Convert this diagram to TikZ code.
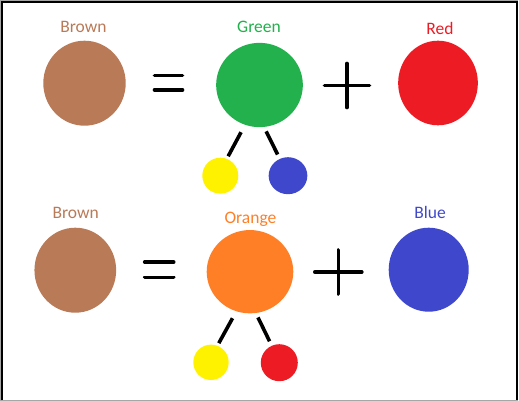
\documentclass[tikz,border=0pt]{standalone}
\usepackage{fontspec}
\setmainfont{Carlito}
\usetikzlibrary{shapes.geometric}
\definecolor{pbrown}{HTML}{B97A57}
\definecolor{pgreen}{HTML}{22B14C}
\definecolor{pred}{HTML}{ED1C24}
\definecolor{pyellow}{HTML}{FFF200}
\definecolor{pblue}{HTML}{3F48CC}
\definecolor{porange}{HTML}{FF7F27}
\tikzset{
  blob/.style={ellipse, inner sep=0pt, outer sep=0pt, draw=none},
  tag/.style={font=\fontsize{17.5}{19}\selectfont, inner sep=0pt},
  sign/.style={line width=3.6pt, line cap=round},
  stem/.style={line width=3.6pt}
}
\begin{document}
\begin{tikzpicture}[x=1pt,y=-1pt]
  \useasboundingbox (0,0) rectangle (519,401);
  \fill[white] (0,0) rectangle (519,401);
  % frame
  \draw[gray!70, line width=1pt] (0,400.5) -- (0,0.5) -- (518,0.5);
  \draw[gray!70, line width=1pt] (0,400.5) -- (518,400.5);
  \draw[black, line width=2pt] (2,400) -- (2,2) -- (516.5,2) -- (516.5,400);

  % ---- top row: brown = green + red
  \node[blob, fill=pbrown, minimum width=82.4pt, minimum height=85pt] (brownA) at (84.5,83.2) {};
  \node[blob, fill=pgreen, minimum width=86.7pt, minimum height=84.3pt] (greenA) at (259.5,85) {};
  \node[blob, fill=pred, minimum width=79.7pt, minimum height=84.6pt] (redA) at (438,83) {};
  \node[blob, fill=pyellow, minimum width=36pt, minimum height=36pt] (yellowA) at (220.3,175.7) {};
  \node[blob, fill=pblue, minimum width=38.7pt, minimum height=37pt] (blueA) at (288,175.7) {};

  \node[tag, text=pbrown] (lbBrownA) at (83.5,27) {Brown};
  \node[tag, text=pgreen] (lbGreenA) at (259,27) {Green};
  \node[tag, text=pred] (lbRedA) at (440,28.5) {Red};

  \coordinate (eqA) at (168.5,82.7);
  \draw[sign] ([shift={(-14,-7.3)}]eqA) -- ([shift={(14,-7.3)}]eqA);
  \draw[sign] ([shift={(-14,7.3)}]eqA) -- ([shift={(14,7.3)}]eqA);
  \coordinate (plA) at (347,85.5);
  \draw[sign] ([shift={(-22.5,0)}]plA) -- ([shift={(22.5,0)}]plA);
  \draw[sign] ([shift={(0,-22)}]plA) -- ([shift={(0,22)}]plA);

  \draw[stem, shorten <=8.5pt, shorten >=3pt] (greenA.-110.6) -- (yellowA.69.4);
  \draw[stem, shorten <=5pt, shorten >=5pt] (greenA.-84) -- (blueA.116);

  % ---- bottom row: brown = orange + blue
  \node[blob, fill=pbrown, minimum width=81.7pt, minimum height=85pt] (brownB) at (75.3,270.2) {};
  \node[blob, fill=porange, minimum width=86.6pt, minimum height=83.3pt] (orangeB) at (250,271.7) {};
  \node[blob, fill=pblue, minimum width=80pt, minimum height=84pt] (blueB) at (428.7,269.7) {};
  \node[blob, fill=pyellow, minimum width=35.4pt, minimum height=35.4pt] (yellowB) at (211,362.3) {};
  \node[blob, fill=pred, minimum width=37pt, minimum height=37pt] (redB) at (279.3,362.7) {};

  \node[tag, text=pbrown] (lbBrownB) at (75.7,212.5) {Brown};
  \node[tag, text=porange] (lbOrangeB) at (250.5,219) {Orange};
  \node[tag, text=pblue] (lbBlueB) at (430,212.5) {Blue};

  \coordinate (eqB) at (159.2,269.7);
  \draw[sign] ([shift={(-14.5,-7.6)}]eqB) -- ([shift={(14.5,-7.6)}]eqB);
  \draw[sign] ([shift={(-14.5,7.6)}]eqB) -- ([shift={(14.5,7.6)}]eqB);
  \coordinate (plB) at (338.3,272);
  \draw[sign] ([shift={(-23.5,0)}]plB) -- ([shift={(23.5,0)}]plB);
  \draw[sign] ([shift={(0,-22)}]plB) -- ([shift={(0,22)}]plB);

  \draw[stem, shorten <=8pt, shorten >=3pt] (orangeB.-109.7) -- (yellowB.69.6);
  \draw[stem, shorten <=5pt, shorten >=5pt] (orangeB.-82) -- (redB.114.4);
\end{tikzpicture}
\end{document}
